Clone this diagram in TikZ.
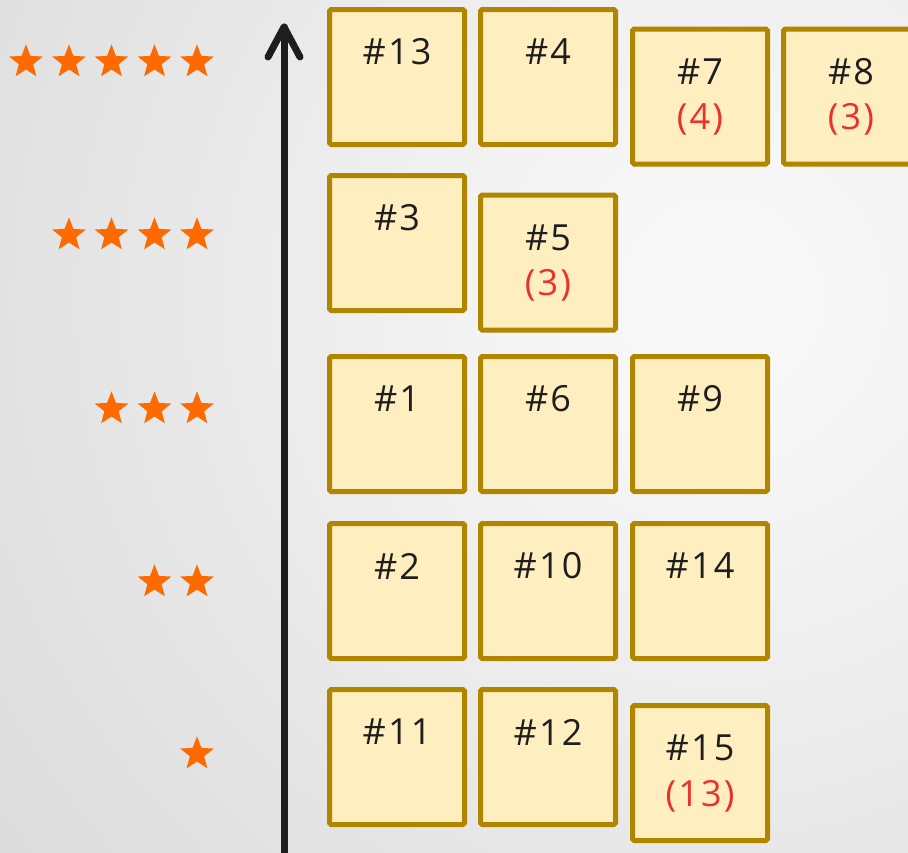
\documentclass[tikz,border=0pt]{standalone}
\usepackage{fontspec}
\setmainfont{Open Sans}[LetterSpace=6]
\usetikzlibrary{shapes.geometric}
\definecolor{bord}{HTML}{B08600}
\definecolor{boxfill}{HTML}{FFEEC0}
\definecolor{starc}{HTML}{FF6A00}
\definecolor{redt}{HTML}{E8322A}
\definecolor{ink}{HTML}{1E1E1E}
\definecolor{bgin}{HTML}{F8F8F8}
\definecolor{bgout}{HTML}{DCDCDC}
\begin{document}
\begin{tikzpicture}[x=0.75pt,y=-0.75pt,
  card/.style={draw=bord, fill=boxfill, line width=3.75pt, minimum size=101.25pt, inner sep=0pt, rounded corners=1.2pt},
  lab/.style={text=ink, font=\fontsize{27}{32}\selectfont, inner sep=0pt},
  sub/.style={text=redt, font=\fontsize{27}{32}\selectfont, inner sep=0pt},
  st/.style={star, star points=5, star point ratio=2.35, fill=starc, minimum size=26.5pt, inner sep=0pt},
  axis/.style={draw=ink, line width=5.25pt, line cap=round, line join=round}]
\useasboundingbox (0,0) rectangle (908,853);
\begin{scope}
  \clip (0,0) rectangle (908,853);
  \fill[bgout] (0,0) rectangle (908,853);
  \foreach \i in {0,...,50}{
    \pgfmathtruncatemacro\m{2*\i}
    \pgfmathsetmacro\r{900-16*\i}
    \fill[bgin!\m!bgout] (720,300) circle (\r);
  }
\end{scope}

% axis
\coordinate (abot) at (284,870);
\coordinate (atop) at (284,27);
\coordinate (awl) at (268,57);
\coordinate (awr) at (300,57);
\draw[axis] (abot) -- (atop);
\draw[axis] (awl) -- (atop) -- (awr);

% stars
\node[st] (s51) at (26,62) {};
\node[st] (s52) at (69,62) {};
\node[st] (s53) at (111.5,62) {};
\node[st] (s54) at (154.5,62) {};
\node[st] (s55) at (197,62) {};
\node[st] (s41) at (69,235) {};
\node[st] (s42) at (111.5,235) {};
\node[st] (s43) at (154.5,235) {};
\node[st] (s44) at (197,235) {};
\node[st] (s31) at (111.5,409) {};
\node[st] (s32) at (154.5,409) {};
\node[st] (s33) at (197,409) {};
\node[st] (s21) at (154.5,582) {};
\node[st] (s22) at (197,582) {};
\node[st] (s11) at (197,754) {};

% five stars
\node[card] (b13) at (397,77) {};
\node[lab] at ([yshift=-33.75pt]b13.north) {\#13};
\node[card] (b4) at (548,77) {};
\node[lab] at ([yshift=-33.75pt]b4.north) {\#4};
\node[card] (b7) at (700,96.5) {};
\node[lab] at ([yshift=-33.75pt]b7.north) {\#7};
\node[sub] at ([yshift=-69.75pt]b7.north) {(4)};
\node[card] (b8) at (851,96.5) {};
\node[lab] at ([yshift=-33.75pt]b8.north) {\#8};
\node[sub] at ([yshift=-69.75pt]b8.north) {(3)};

% four stars
\node[card] (b3) at (397,243) {};
\node[lab] at ([yshift=-33.75pt]b3.north) {\#3};
\node[card] (b5) at (548,262.5) {};
\node[lab] at ([yshift=-33.75pt]b5.north) {\#5};
\node[sub] at ([yshift=-69.75pt]b5.north) {(3)};

% three stars
\node[card] (b1) at (397,424) {};
\node[lab] at ([yshift=-33.75pt]b1.north) {\#1};
\node[card] (b6) at (548,424) {};
\node[lab] at ([yshift=-33.75pt]b6.north) {\#6};
\node[card] (b9) at (700,424) {};
\node[lab] at ([yshift=-33.75pt]b9.north) {\#9};

% two stars
\node[card] (b2) at (397,591) {};
\node[lab] at ([yshift=-33.75pt]b2.north) {\#2};
\node[card] (b10) at (548,591) {};
\node[lab] at ([yshift=-33.75pt]b10.north) {\#10};
\node[card] (b14) at (700,591) {};
\node[lab] at ([yshift=-33.75pt]b14.north) {\#14};

% one star
\node[card] (b11) at (397,757) {};
\node[lab] at ([yshift=-33.75pt]b11.north) {\#11};
\node[card] (b12) at (548,757) {};
\node[lab] at ([yshift=-33.75pt]b12.north) {\#12};
\node[card] (b15) at (700,773) {};
\node[lab] at ([yshift=-33.75pt]b15.north) {\#15};
\node[sub] at ([yshift=-69.75pt]b15.north) {(13)};
\end{tikzpicture}
\end{document}
